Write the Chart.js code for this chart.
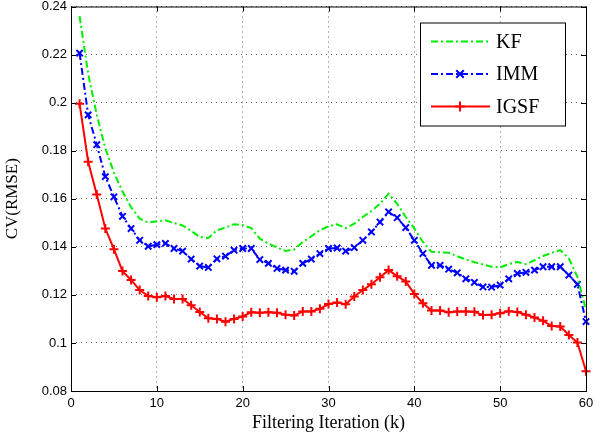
<!DOCTYPE html>
<html>
<head>
<meta charset="utf-8">
<script src="https://cdn.jsdelivr.net/npm/chart.js@4/dist/chart.umd.min.js"></script>
<style>
  html, body { margin: 0; padding: 0; background: #fff; }
  #wrap { width: 605px; height: 435px; }
</style>
</head>
<body>
<div id="wrap"><canvas id="cv" width="605" height="435"></canvas></div>
<script>
const iterations = Array.from({ length: 60 }, (_, i) => i + 1);
const xTicks = [0, 10, 20, 30, 40, 50, 60];
const yTicks = [0.08, 0.1, 0.12, 0.14, 0.16, 0.18, 0.2, 0.22, 0.24];

const kfValues = [
  0.236, 0.212, 0.195, 0.181, 0.171, 0.163, 0.1565, 0.1517, 0.1501, 0.1506,
  0.151, 0.1499, 0.1489, 0.1466, 0.1441, 0.1437, 0.1469, 0.148, 0.1494, 0.149,
  0.1478, 0.1434, 0.1414, 0.1397, 0.1383, 0.1389, 0.142, 0.1444, 0.1469, 0.1485,
  0.1494, 0.1478, 0.1496, 0.1524, 0.1549, 0.1579, 0.1621, 0.1579, 0.1524, 0.1476,
  0.142, 0.1379, 0.1377, 0.1375, 0.1361, 0.1347, 0.1336, 0.1327, 0.1317, 0.1314,
  0.1328, 0.1337, 0.1328, 0.1344, 0.1362, 0.1375, 0.1386, 0.1352, 0.1275, 0.1137
];
const immValues = [
  0.2206, 0.1949, 0.1825, 0.1692, 0.1608, 0.1527, 0.1476, 0.1427, 0.1402, 0.1409,
  0.1414, 0.1393, 0.1382, 0.1349, 0.132, 0.1314, 0.135, 0.1361, 0.1386, 0.1393,
  0.1393, 0.1347, 0.1331, 0.131, 0.1303, 0.1298, 0.1331, 0.1349, 0.1372, 0.1393,
  0.1395, 0.1382, 0.1397, 0.1427, 0.1462, 0.1503, 0.1545, 0.1521, 0.148, 0.1427,
  0.1372, 0.1323, 0.1323, 0.1307, 0.1292, 0.1267, 0.1252, 0.1233, 0.1232, 0.1241,
  0.1267, 0.1289, 0.1294, 0.1303, 0.1317, 0.1317, 0.1317, 0.1282, 0.1244, 0.1089
];
const igsfValues = [
  0.1995, 0.1754, 0.1618, 0.1476, 0.139, 0.1299, 0.1262, 0.122, 0.1195, 0.119,
  0.1195, 0.1183, 0.1183, 0.1157, 0.1129, 0.1103, 0.11, 0.1088, 0.11, 0.111,
  0.1128, 0.1126, 0.1128, 0.1126, 0.1117, 0.1114, 0.1131, 0.1131, 0.1142, 0.1162,
  0.1168, 0.1161, 0.1193, 0.122, 0.1244, 0.1273, 0.1303, 0.1278, 0.1256, 0.1204,
  0.1165, 0.1135, 0.1135, 0.1128, 0.1131, 0.1131, 0.113, 0.1116, 0.1117, 0.1124,
  0.1132, 0.1129, 0.1117, 0.1106, 0.1092, 0.107, 0.1068, 0.1033, 0.1002, 0.0882
];

const toPoints = (vals) => vals.map((v, i) => ({ x: iterations[i], y: v }));
const fmtTick = (v) => String(+Number(v).toFixed(2));

const series = [
  { label: 'KF', data: kfValues, color: '#00ee00', dash: [7, 3, 2, 3], style: false },
  { label: 'IMM', data: immValues, color: '#0000ff', dash: [7, 3, 2, 3], style: 'crossRot' },
  { label: 'IGSF', data: igsfValues, color: '#ff0000', dash: [], style: 'cross' }
];

function drawMarker(ctx, style, x, y, r) {
  ctx.beginPath();
  if (style === 'cross') {
    ctx.moveTo(x - r, y); ctx.lineTo(x + r, y);
    ctx.moveTo(x, y - r); ctx.lineTo(x, y + r);
  } else if (style === 'crossRot') {
    const d = r * 0.75;
    ctx.moveTo(x - d, y - d); ctx.lineTo(x + d, y + d);
    ctx.moveTo(x - d, y + d); ctx.lineTo(x + d, y - d);
  }
  ctx.stroke();
}

// box frame, inner ticks and the legend, matlab-style
const framePlugin = {
  id: 'frame',
  afterDraw(chart) {
    const { ctx, chartArea: a, scales } = chart;
    ctx.save();
    ctx.strokeStyle = '#000';
    ctx.lineWidth = 1;
    ctx.setLineDash([]);
    ctx.strokeRect(a.left + 0.5, a.top + 0.5, a.right - a.left, a.bottom - a.top);

    const tl = 5;
    ctx.beginPath();
    xTicks.forEach(t => {
      const px = Math.round(scales.x.getPixelForValue(t)) + 0.5;
      ctx.moveTo(px, a.bottom); ctx.lineTo(px, a.bottom - tl);
      ctx.moveTo(px, a.top); ctx.lineTo(px, a.top + tl);
    });
    yTicks.forEach(t => {
      const py = Math.round(scales.y.getPixelForValue(t)) + 0.5;
      ctx.moveTo(a.left, py); ctx.lineTo(a.left + tl, py);
      ctx.moveTo(a.right, py); ctx.lineTo(a.right - tl, py);
    });
    ctx.stroke();

    // legend box
    const bx = a.right - 166, by = a.top + 16, bw = 145, bh = 103;
    ctx.fillStyle = '#fff';
    ctx.fillRect(bx, by, bw, bh);
    ctx.strokeRect(bx + 0.5, by + 0.5, bw, bh);
    ctx.font = '20px "Liberation Serif", "Times New Roman", serif';
    ctx.textBaseline = 'middle';
    ctx.textAlign = 'left';
    series.forEach((s, i) => {
      const y = by + 19 + i * 32.5;
      ctx.strokeStyle = s.color;
      ctx.lineWidth = 2;
      ctx.setLineDash(s.dash);
      ctx.beginPath();
      ctx.moveTo(bx + 11, y); ctx.lineTo(bx + 70, y);
      ctx.stroke();
      ctx.setLineDash([]);
      if (s.style) drawMarker(ctx, s.style, bx + 40, y, 5);
      ctx.fillStyle = '#000';
      ctx.fillText(s.label, bx + 76, y + 1);
    });
    ctx.restore();
  }
};

const gridOpts = { color: 'rgba(60,60,60,0.8)', lineWidth: 1, drawTicks: false };

new Chart(document.getElementById('cv'), {
  type: 'line',
  data: {
    datasets: series.map(s => ({
      label: s.label,
      data: toPoints(s.data),
      borderColor: s.color,
      backgroundColor: s.color,
      borderWidth: 2,
      borderDash: s.dash,
      pointStyle: s.style || 'circle',
      pointRadius: s.style ? 4.5 : 0,
      pointBorderWidth: 2,
      pointBorderColor: s.color,
      tension: 0,
      fill: false,
      clip: false
    }))
  },
  options: {
    responsive: false,
    animation: false,
    events: [],
    layout: { padding: { top: 4, right: 19, left: 0, bottom: 0 } },
    plugins: { legend: { display: false }, tooltip: { enabled: false } },
    scales: {
      x: {
        type: 'linear',
        min: 0, max: 60,
        afterBuildTicks: (scale) => { scale.ticks = xTicks.map(v => ({ value: v })); },
        afterFit: (scale) => { scale.height = 44; scale.paddingLeft = 0; scale.paddingRight = 0; },
        ticks: { color: '#000', padding: 5, font: { family: '"Liberation Sans", Arial, sans-serif', size: 13 }, maxRotation: 0 },
        grid: gridOpts,
        border: { display: false, dash: [1, 4] },
        title: {
          display: true,
          text: 'Filtering Iteration (k)',
          color: '#000',
          font: { family: '"Liberation Serif", "Times New Roman", serif', size: 18 },
          padding: { top: 0, bottom: 1 }
        }
      },
      y: {
        type: 'linear',
        min: 0.08, max: 0.24,
        afterBuildTicks: (scale) => { scale.ticks = yTicks.map(v => ({ value: v })); },
        afterFit: (scale) => { scale.width = 71; scale.paddingTop = 0; scale.paddingBottom = 0; },
        ticks: { color: '#000', padding: 4, callback: fmtTick, font: { family: '"Liberation Sans", Arial, sans-serif', size: 13 } },
        grid: gridOpts,
        border: { display: false, dash: [1, 4] },
        title: {
          display: true,
          text: 'CV(RMSE)',
          color: '#000',
          font: { family: '"Liberation Serif", "Times New Roman", serif', size: 17 },
          padding: { top: 2, bottom: 0 }
        }
      }
    }
  },
  plugins: [framePlugin]
});
</script>
</body>
</html>
